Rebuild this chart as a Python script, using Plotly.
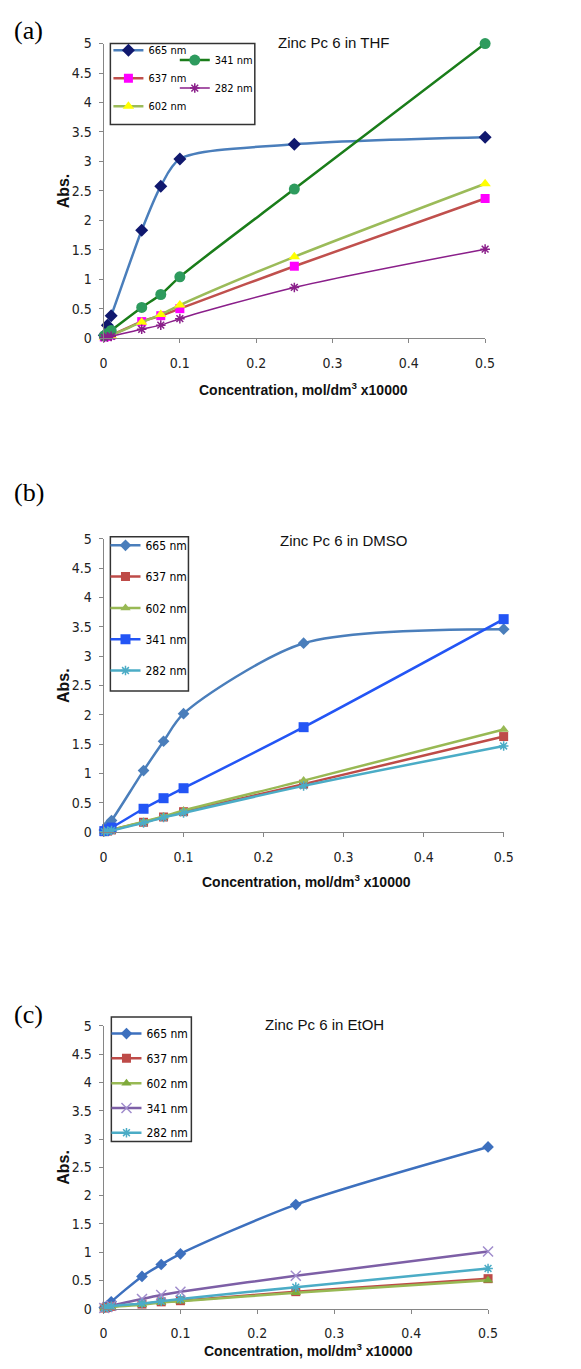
import plotly.graph_objects as go

W, H = 581, 1369

conc = [0.001, 0.005, 0.01, 0.05, 0.075, 0.1, 0.25, 0.5]

# (a) THF
thf_665 = [0.05, 0.22, 0.38, 1.83, 2.58, 3.04, 3.29, 3.41]
thf_341 = [0.04, 0.08, 0.13, 0.52, 0.74, 1.04, 2.53, 5.00]
thf_637 = [0.02, 0.03, 0.05, 0.28, 0.38, 0.50, 1.22, 2.37]
thf_602 = [0.02, 0.03, 0.05, 0.27, 0.40, 0.56, 1.38, 2.62]
thf_282 = [0.01, 0.02, 0.03, 0.15, 0.22, 0.33, 0.86, 1.51]

# (b) DMSO
dmso_665 = [0.04, 0.12, 0.20, 1.05, 1.55, 2.02, 3.22, 3.46]
dmso_637 = [0.01, 0.02, 0.04, 0.17, 0.26, 0.35, 0.82, 1.63]
dmso_602 = [0.01, 0.02, 0.04, 0.18, 0.27, 0.37, 0.88, 1.75]
dmso_341 = [0.02, 0.05, 0.08, 0.40, 0.58, 0.75, 1.79, 3.63]
dmso_282 = [0.01, 0.02, 0.03, 0.16, 0.25, 0.33, 0.79, 1.47]

# (c) EtOH
etoh_665 = [0.02, 0.05, 0.12, 0.57, 0.78, 0.97, 1.84, 2.86]
etoh_637 = [0.01, 0.02, 0.04, 0.08, 0.12, 0.14, 0.30, 0.53]
etoh_602 = [0.01, 0.02, 0.03, 0.07, 0.11, 0.13, 0.28, 0.50]
etoh_341 = [0.01, 0.03, 0.05, 0.17, 0.24, 0.30, 0.58, 1.01]
etoh_282 = [0.01, 0.02, 0.04, 0.09, 0.13, 0.17, 0.38, 0.71]

names = ["665 nm", "637 nm", "602 nm", "341 nm", "282 nm"]
x_ticks = [0, 0.1, 0.2, 0.3, 0.4, 0.5]
y_ticks = [0, 0.5, 1, 1.5, 2, 2.5, 3, 3.5, 4, 4.5, 5]

NARROW = "DejaVu Sans Condensed, Liberation Sans, sans-serif"


def px(x):
    return x / W


def py(y):
    return 1 - y / H


fig = go.Figure()


def add(ys, name, sub, line_color, lw, symbol, msize, mcolor, legend, mline=None, shape="spline"):
    marker = dict(symbol=symbol, size=msize, color=mcolor)
    if mline:
        marker["line"] = dict(color=mline, width=1.5)
    else:
        marker["line"] = dict(width=0)
    fig.add_trace(go.Scatter(
        x=conc, y=ys, name=name, mode="lines+markers",
        line=dict(color=line_color, width=lw, shape=shape, smoothing=0.8),
        marker=marker, xaxis="x" if sub == 1 else f"x{sub}",
        yaxis="y" if sub == 1 else f"y{sub}", legend=legend,
        legendgroup=f"{legend}-{name}", cliponaxis=False,
    ))


# Panel (a)
add(thf_665, "665 nm", 1, "#4a7ebb", 2.5, "diamond", 10, "#10186e", "legend")
add(thf_637, "637 nm", 1, "#c0504d", 2.5, "square", 9, "#ff00ff", "legend")
add(thf_602, "602 nm", 1, "#9bbb59", 2.5, "triangle-up", 10, "#ffff00", "legend")
add(thf_341, "341 nm", 1, "#1a7d1a", 2.5, "circle", 11, "#2e9b5e", "legend4")
add(thf_282, "282 nm", 1, "#8a1f8a", 1.5, "asterisk-open", 8, "#8a1f8a", "legend4", mline="#8a1f8a")

# Panel (b)
add(dmso_665, "665 nm", 2, "#4a7ebb", 2.5, "diamond", 9, "#4a7ebb", "legend2")
add(dmso_637, "637 nm", 2, "#be4b48", 2.5, "square", 9, "#be4b48", "legend2")
add(dmso_602, "602 nm", 2, "#98b954", 2.5, "triangle-up", 9, "#98b954", "legend2")
add(dmso_341, "341 nm", 2, "#2355f5", 2.5, "square", 10, "#2355f5", "legend2")
add(dmso_282, "282 nm", 2, "#4bacc6", 2.5, "asterisk-open", 8, "#4bacc6", "legend2", mline="#7fd0e8")

# Panel (c)
add(etoh_665, "665 nm", 3, "#3d70be", 2.5, "diamond", 9, "#3d70be", "legend3")
add(etoh_637, "637 nm", 3, "#be4b48", 2.5, "square", 9, "#be4b48", "legend3")
add(etoh_602, "602 nm", 3, "#98b954", 2.5, "triangle-up", 9, "#7faa3c", "legend3")
add(etoh_341, "341 nm", 3, "#7d5fa6", 2.5, "x-thin-open", 10, "#a08ccc", "legend3", mline="#a08ccc")
add(etoh_282, "282 nm", 3, "#4bacc6", 2.5, "asterisk-open", 8, "#4bacc6", "legend3", mline="#7fd0e8")

# axes geometry (pixels)
panels = [
    dict(x0=102, x1=493, ytop=36, ybot=334, title="Zinc Pc 6 in THF", tx=338, ty=35,
         lab="(a)", ly=23, xt_y=385, xt_x=307, box=(109, 36, 257, 118)),
    dict(x0=102, x1=512, ytop=537, ybot=834, title="Zinc Pc 6 in DMSO", tx=348, ty=539,
         lab="(b)", ly=490, xt_y=883, xt_x=310, box=(109, 535, 189, 691)),
    dict(x0=102, x1=496, ytop=1030, ybot=1316, title="Zinc Pc 6 in EtOH", tx=328, ty=1029,
         lab="(c)", ly=1018, xt_y=1358, xt_x=312, box=(110, 1021, 192, 1147)),
]

axis_common = dict(showline=True, linecolor="#868686", linewidth=1, ticks="outside",
                   tickcolor="#868686", ticklen=4, showgrid=False, zeroline=False,
                   tickfont=dict(family=NARROW, size=14, color="#222"))

layout = dict(width=W, height=H, margin=dict(l=0, r=0, t=0, b=0),
              paper_bgcolor="white", plot_bgcolor="white", showlegend=True)
annotations = []
shapes = []
for i, p in enumerate(panels, start=1):
    sx = "" if i == 1 else str(i)
    layout[f"xaxis{sx}"] = dict(axis_common, domain=[px(p["x0"]), px(p["x1"])], range=[0, 0.5],
                                tickvals=x_ticks, anchor=f"y{sx}", ticklabelstandoff=8)
    layout[f"yaxis{sx}"] = dict(axis_common, domain=[py(p["ybot"]), py(p["ytop"])], range=[0, 5],
                                tickvals=y_ticks, anchor=f"x{sx}", ticklabelstandoff=4)
    annotations.append(dict(text=p["title"], x=px(p["tx"]), y=py(p["ty"]), xref="paper", yref="paper",
                            xanchor="center", yanchor="middle", showarrow=False,
                            font=dict(family="Liberation Sans", size=15, color="#111")))
    annotations.append(dict(text=p["lab"], x=px(8), y=py(p["ly"]), xref="paper", yref="paper",
                            xanchor="left", yanchor="middle", showarrow=False,
                            font=dict(family="Liberation Serif", size=26, color="#000")))
    annotations.append(dict(text="<b>Concentration, mol/dm<sup>3</sup> x10000</b>", x=px(p["xt_x"]),
                            y=py(p["xt_y"]), xref="paper", yref="paper", showarrow=False,
                            xanchor="center", yanchor="middle",
                            font=dict(family="Liberation Sans", size=14, color="#111")))
    annotations.append(dict(text="<b>Abs.</b>", x=px(61), y=py((p["ytop"] + p["ybot"]) / 2),
                            xref="paper", yref="paper", showarrow=False, textangle=-90,
                            xanchor="center", yanchor="middle",
                            font=dict(family="Liberation Sans", size=16, color="#111")))
    bx0, by0, bx1, by1 = p["box"]
    shapes.append(dict(type="rect", xref="paper", yref="paper", x0=px(bx0), x1=px(bx1),
                       y0=py(by1), y1=py(by0), line=dict(color="#333", width=1.5)))

leg_common = dict(bgcolor="rgba(0,0,0,0)", borderwidth=0, traceorder="grouped",
                  xanchor="left", yanchor="top")
layout["legend"] = dict(leg_common, x=px(107), y=py(28), tracegroupgap=9,
                        font=dict(family=NARROW, size=11, color="#000"))
layout["legend4"] = dict(leg_common, x=px(175), y=py(38), tracegroupgap=9,
                         font=dict(family=NARROW, size=11, color="#000"))
layout["legend2"] = dict(leg_common, x=px(104), y=py(529), tracegroupgap=12.3,
                         font=dict(family=NARROW, size=12, color="#000"))
layout["legend3"] = dict(leg_common, x=px(105), y=py(1023), tracegroupgap=5.8,
                         font=dict(family=NARROW, size=12, color="#000"))
layout["annotations"] = annotations
layout["shapes"] = shapes

fig.update_layout(**layout)
fig.write_html("out.html")
